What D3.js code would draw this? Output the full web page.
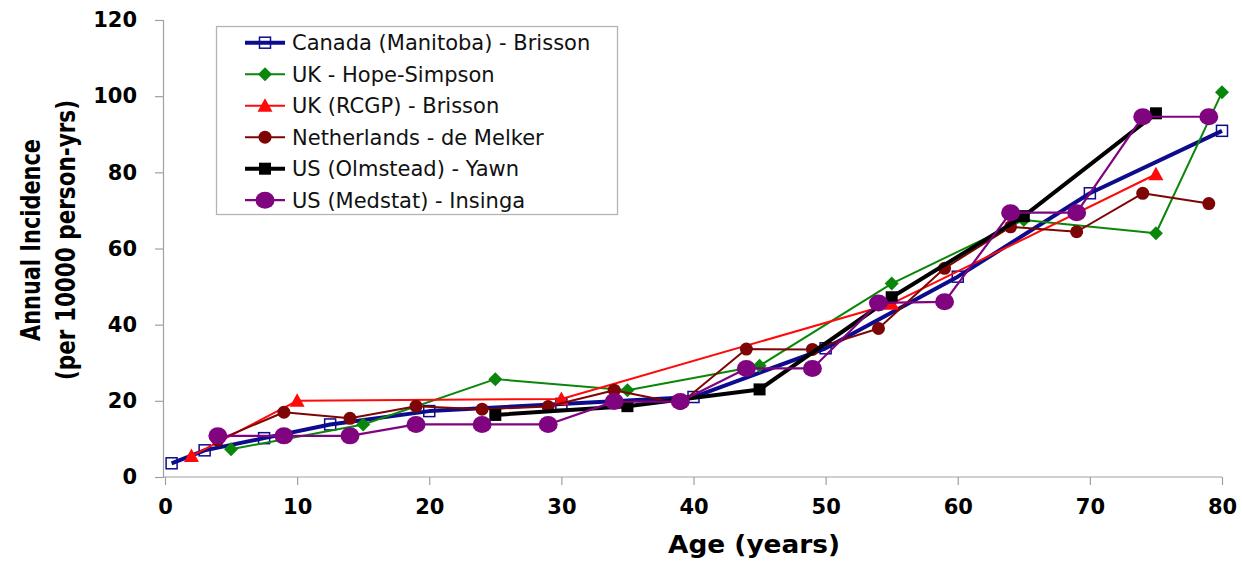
<!DOCTYPE html>
<html>
<head>
<meta charset="utf-8">
<script src="https://cdn.jsdelivr.net/npm/d3@7"></script>
<style>
  body { margin: 0; background: #fff; }
  svg { display: block; }
</style>
</head>
<body>
<svg width="1242" height="561"></svg>
<script>
// data
let canada = [[0.5,3.6],[3,7],[7.5,10.2],[12.5,13.8],[20,17.3],[30,19.2],[40,21],[50,33.8],[60,52.6],[70,74.5],[80,90.9]];
let ukHope = [[5,7.3],[15,13.8],[25,25.7],[35,22.8],[45,29.2],[55,50.8],[65,67.5],[75,64],[80,101]];
let ukRcgp = [[2,5.5],[10,20],[30,20.5],[55,45.5],[75,79.5]];
let netherlands = [[4,9.7],[9,17],[14,15.4],[19,18.6],[24,17.8],[29,18.5],[34,22.8],[39,19.3],[44,33.6],[49,33.5],[54,39],[59,54.8],[64,65.7],[69,64.4],[74,74.5],[79,71.8]];
let usOlmstead = [[25,16.3],[35,18.6],[45,23],[55,47.2],[65,68.5],[75,95.5]];
let usMedstat = [[4,10.8],[9,10.8],[14,10.8],[19,13.8],[24,13.8],[29,13.8],[34,19.8],[39,19.8],[44,28.5],[49,28.5],[54,45.7],[59,46],[64,69.4],[69,69.4],[74,94.6],[79,94.6]];

let seriesNames = ['Canada (Manitoba) - Brisson', 'UK - Hope-Simpson', 'UK (RCGP) - Brisson',
	'Netherlands - de Melker', 'US (Olmstead) - Yawn', 'US (Medstat) - Insinga'];
let xTicks = [0, 10, 20, 30, 40, 50, 60, 70, 80];
let yTicks = [0, 20, 40, 60, 80, 100, 120];

let series = [
	{ name: seriesNames[0], data: canada, color: '#0c0c8c', width: 4, marker: 'openSquare' },
	{ name: seriesNames[1], data: ukHope, color: '#0a870a', width: 2, marker: 'diamond' },
	{ name: seriesNames[2], data: ukRcgp, color: '#ff0a0a', width: 2, marker: 'triangle' },
	{ name: seriesNames[3], data: netherlands, color: '#7d0505', width: 2, marker: 'smallCircle' },
	{ name: seriesNames[4], data: usOlmstead, color: '#000000', width: 4, marker: 'square' },
	{ name: seriesNames[5], data: usMedstat, color: '#800480', width: 2.2, marker: 'bigCircle' }
];

let x = d3.scaleLinear().domain([0, 80]).range([165, 1222]);
let y = d3.scaleLinear().domain([0, 120]).range([477, 20]);

let svg = d3.select('svg');
let axisColor = '#a0a0a0';

// axes
let xAxis = svg.append('g')
	.attr('transform', 'translate(0,477)')
	.call(d3.axisBottom(x).tickValues(xTicks).tickSize(8).tickPadding(14));
let yAxis = svg.append('g')
	.attr('transform', 'translate(163,0)')
	.call(d3.axisLeft(y).tickValues(yTicks).tickSize(8).tickPadding(18));

[xAxis, yAxis].forEach(function(g) {
	g.select('.domain').attr('stroke', axisColor).attr('stroke-width', 1.2);
	g.selectAll('.tick line').attr('stroke', axisColor).attr('stroke-width', 1.2);
	g.selectAll('.tick text')
		.attr('fill', '#000')
		.style('font-family', '"DejaVu Sans", Verdana, sans-serif')
		.style('font-weight', 'bold')
		.style('font-size', '21px');
});
xAxis.select('.domain').attr('d', 'M163,0H' + x(80));

// axis titles
svg.append('text')
	.attr('x', 754).attr('y', 553)
	.attr('text-anchor', 'middle')
	.attr('textLength', 172)
	.attr('lengthAdjust', 'spacingAndGlyphs')
	.style('font-family', '"DejaVu Sans", Verdana, sans-serif')
	.style('font-weight', 'bold')
	.style('font-size', '24px')
	.text('Age (years)');

let yTitle = svg.append('text')
	.attr('transform', 'translate(40,240) rotate(-90)')
	.attr('text-anchor', 'middle')
	.style('font-family', '"Liberation Sans Narrow", "DejaVu Sans Condensed", sans-serif')
	.style('font-weight', 'bold')
	.style('font-size', '26px');
yTitle.append('tspan').attr('x', 0).attr('dy', 0)
	.attr('textLength', 202).attr('lengthAdjust', 'spacingAndGlyphs')
	.text('Annual Incidence');
yTitle.append('tspan').attr('x', 0).attr('dy', 35)
	.attr('textLength', 280).attr('lengthAdjust', 'spacingAndGlyphs')
	.text('(per 10000 person-yrs)');

// marker drawing
function drawMarker(g, type, color, cx, cy) {
	if (type === 'openSquare') {
		g.append('rect').attr('x', cx - 5.5).attr('y', cy - 5.5).attr('width', 11).attr('height', 11)
			.attr('fill', 'none').attr('stroke', color).attr('stroke-width', 1.5);
	} else if (type === 'square') {
		g.append('rect').attr('x', cx - 6).attr('y', cy - 6).attr('width', 12).attr('height', 12)
			.attr('fill', color);
	} else if (type === 'diamond') {
		g.append('path')
			.attr('d', `M${cx},${cy - 7}L${cx + 7},${cy}L${cx},${cy + 7}L${cx - 7},${cy}Z`)
			.attr('fill', color);
	} else if (type === 'triangle') {
		g.append('path')
			.attr('d', `M${cx},${cy - 7.5}L${cx + 7.5},${cy + 6}L${cx - 7.5},${cy + 6}Z`)
			.attr('fill', color);
	} else if (type === 'smallCircle') {
		g.append('circle').attr('cx', cx).attr('cy', cy).attr('r', 6.5).attr('fill', color);
	} else if (type === 'bigCircle') {
		g.append('ellipse').attr('cx', cx).attr('cy', cy).attr('rx', 9.5).attr('ry', 8.5).attr('fill', color);
	}
}

let line = d3.line().x(d => x(d[0])).y(d => y(d[1]));

series.forEach(function(s) {
	let g = svg.append('g');
	g.append('path')
		.datum(s.data)
		.attr('d', line)
		.attr('fill', 'none')
		.attr('stroke', s.color)
		.attr('stroke-width', s.width)
		.attr('stroke-linejoin', 'round');
	s.data.forEach(function(d) {
		drawMarker(g, s.marker, s.color, x(d[0]), y(d[1]));
	});
});

// legend
let legend = svg.append('g');
legend.append('rect')
	.attr('x', 216.5).attr('y', 26.5).attr('width', 401).attr('height', 188)
	.attr('fill', '#fff').attr('stroke', '#b4b4b4').attr('stroke-width', 1.3);

series.forEach(function(s, i) {
	let ly = 42.7 + i * 31.5;
	legend.append('line')
		.attr('x1', 245).attr('x2', 285).attr('y1', ly).attr('y2', ly)
		.attr('stroke', s.color).attr('stroke-width', s.width);
	drawMarker(legend, s.marker, s.color, 265, ly);
	legend.append('text')
		.attr('x', 292).attr('y', ly + 7.5)
		.attr('fill', '#111')
		.style('font-family', '"DejaVu Sans", Verdana, sans-serif')
		.style('font-size', '21px')
		.text(s.name);
});
</script>
</body>
</html>
